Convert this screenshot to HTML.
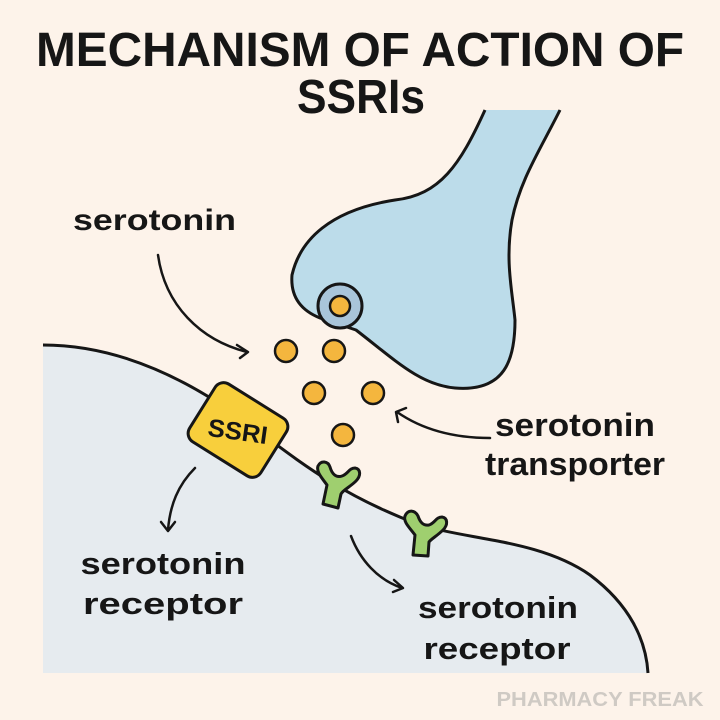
<!DOCTYPE html>
<html><head><meta charset="utf-8"><style>
html,body{margin:0;padding:0;background:#fdf3ea;}
svg{display:block}
text{font-family:"Liberation Sans","DejaVu Sans",sans-serif;fill:#161616}
</style></head><body>
<svg width="720" height="720" viewBox="0 0 720 720" xmlns="http://www.w3.org/2000/svg">
<rect width="720" height="720" fill="#fdf3ea"/>
<text x="360" y="66" text-anchor="middle" font-size="48" font-weight="bold" textLength="648" lengthAdjust="spacingAndGlyphs">MECHANISM OF ACTION OF</text>
<text x="361" y="113" text-anchor="middle" font-size="48" font-weight="bold" textLength="128" lengthAdjust="spacingAndGlyphs">SSRIs</text>

<!-- postsynaptic -->
<path d="M43,345 C120,345 190,380 250,425 C300,462 340,495 420,525 C470,540 540,540 590,575 C630,605 646,640 648,673 L43,673 Z" fill="#e6ebef"/>
<path d="M43,345 C120,345 190,380 250,425 C300,462 340,495 420,525 C470,540 540,540 590,575 C630,605 646,640 648,673" fill="none" stroke="#161616" stroke-width="3"/>

<!-- presynaptic -->
<path d="M485,110 C460,165 440,195 395,200 C330,210 300,240 292,275 C290,300 305,312 320,318 L356,330 C395,360 420,385 455,388 C505,392 515,360 515,320 C512,290 505,260 512,220 C520,180 540,150 560,110" fill="#bcdcea" stroke="#161616" stroke-width="3" stroke-linejoin="round"/>
<circle cx="340" cy="306" r="22" fill="#a9c5da" stroke="#161616" stroke-width="3"/>
<circle cx="340" cy="306" r="10" fill="#f4b63e" stroke="#161616" stroke-width="2.5"/>

<!-- serotonin dots -->
<g fill="#f4b63e" stroke="#161616" stroke-width="2.5">
<circle cx="286" cy="351" r="11"/><circle cx="334" cy="351" r="11"/>
<circle cx="314" cy="393" r="11"/><circle cx="373" cy="393" r="11"/>
<circle cx="343" cy="435" r="11"/>
</g>

<!-- SSRI box -->
<g transform="translate(238,430) rotate(32)">
<rect x="-42" y="-34" width="84" height="68" rx="10" fill="#f8cf3c" stroke="#161616" stroke-width="3"/>
</g>
<text x="238" y="440" text-anchor="middle" font-size="25" font-weight="bold" transform="rotate(8 238 430)" textLength="60" lengthAdjust="spacingAndGlyphs">SSRI</text>

<!-- receptors -->
<g fill="#9fcf6f" stroke="#161616" stroke-width="3" stroke-linejoin="round">
<path d="M323,504 L327,485 C322,478 316,472 318,466 C321,460 328,461 330,467 C332,474 336,478 342,476 C348,474 349,468 355,468 C361,469 361,476 356,481 C350,487 343,490 341,494 L338,508 Z"/>
<path d="M413,555 L415,535 C410,528 403,522 405,516 C408,509 415,510 418,516 C420,522 423,526 429,525 C435,523 436,517 442,517 C448,518 448,525 443,530 C437,536 431,539 429,542 L428,556 Z"/>
</g>

<!-- arrows -->
<g fill="none" stroke="#161616" stroke-width="2.5" stroke-linecap="round" stroke-linejoin="round">
<path d="M158,255 C165,305 200,340 247,352"/><path d="M237,345 L248,352 L240,358"/>
<path d="M490,438 C450,438 420,428 397,412"/><path d="M398,422 L396,412 L406,408"/>
<path d="M195,468 C178,485 170,505 168,530"/><path d="M161,522 L168,531 L175,522"/>
<path d="M351,536 C360,560 378,580 402,588"/><path d="M394,580 L403,588 L393,592"/>
</g>

<text x="73" y="230" font-size="30" font-weight="bold" textLength="163" lengthAdjust="spacingAndGlyphs">serotonin</text>
<text x="575" y="436" text-anchor="middle" font-size="32" font-weight="bold" textLength="160" lengthAdjust="spacingAndGlyphs">serotonin</text>
<text x="575" y="475" text-anchor="middle" font-size="32" font-weight="bold" textLength="180" lengthAdjust="spacingAndGlyphs">transporter</text>
<text x="163" y="574" text-anchor="middle" font-size="31" font-weight="bold" textLength="165" lengthAdjust="spacingAndGlyphs">serotonin</text>
<text x="163" y="614" text-anchor="middle" font-size="31" font-weight="bold" textLength="160" lengthAdjust="spacingAndGlyphs">receptor</text>
<text x="498" y="618" text-anchor="middle" font-size="31" font-weight="bold" textLength="160" lengthAdjust="spacingAndGlyphs">serotonin</text>
<text x="497" y="659" text-anchor="middle" font-size="31" font-weight="bold" textLength="147" lengthAdjust="spacingAndGlyphs">receptor</text>
<text x="600" y="706" text-anchor="middle" font-size="20" font-weight="bold" style="fill:#cfcac4" textLength="207" lengthAdjust="spacingAndGlyphs">PHARMACY FREAK</text>
</svg>
</body></html>
